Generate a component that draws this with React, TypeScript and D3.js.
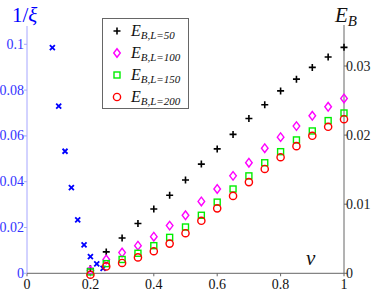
import React from 'react';
import * as d3 from 'd3';

// 1/xi (left axis, blue crosses)
const vXi = [0.08, 0.10, 0.12, 0.14, 0.16, 0.18, 0.20, 0.22, 0.24];
const invXi = [0.0985, 0.073, 0.0533, 0.0374, 0.0233, 0.0124, 0.0073, 0.0041, 0.0022];

// E_B series (right axis)
const vE = [0.2, 0.25, 0.3, 0.35, 0.4, 0.45, 0.5, 0.55, 0.6, 0.65, 0.7, 0.75, 0.8, 0.85, 0.9, 0.95, 1.0];
const eL50 = [0.0007, 0.0031, 0.0051, 0.0072, 0.0093, 0.0113, 0.0135, 0.0158, 0.018, 0.0201, 0.0224, 0.0244, 0.0264, 0.0281, 0.0298, 0.0313, 0.0327];
const eL100 = [0.0004, 0.002, 0.003, 0.004, 0.0053, 0.0069, 0.0084, 0.0104, 0.0122, 0.0141, 0.016, 0.0181, 0.0197, 0.0213, 0.0228, 0.0241, 0.0253];
const eL150 = [0.0002, 0.0014, 0.002, 0.0029, 0.004, 0.0052, 0.0067, 0.0084, 0.0103, 0.0122, 0.0141, 0.016, 0.0176, 0.0193, 0.0206, 0.0221, 0.0232];
const eL200 = [-0.0002, 0.001, 0.0015, 0.0023, 0.0032, 0.0043, 0.0058, 0.0076, 0.0094, 0.0112, 0.0132, 0.0151, 0.0168, 0.0184, 0.0199, 0.0212, 0.0223];

const xTicks = [0, 0.2, 0.4, 0.6, 0.8, 1];
const leftTicks = [0, 0.02, 0.04, 0.06, 0.08, 0.1];
const rightTicks = [0, 0.01, 0.02, 0.03];
const legendLabels = ['B,L=50', 'B,L=100', 'B,L=150', 'B,L=200'];

const W = 374, H = 291;
const left = 27, right = 344, bottom = 273.3, top = 26;
const serif = "'Liberation Serif', 'Times New Roman', 'DejaVu Serif', serif";

const x = d3.scaleLinear().domain([0, 1]).range([left, right]);
const yL = d3.scaleLinear().domain([0, 0.1]).range([bottom, 44.3]);
const yR = d3.scaleLinear().domain([0, 0.03]).range([bottom, 66]);

const blue = '#0000ff';
const axisBlue = '#a6a6ff';
const gray = '#666';

const Plus = ({ cx, cy }: { cx: number; cy: number }) => (
  <path d={`M${cx - 3.5},${cy}H${cx + 3.5}M${cx},${cy - 3.5}V${cy + 3.5}`} stroke="#000" strokeWidth={1.6} fill="none" />
);
const Cross = ({ cx, cy }: { cx: number; cy: number }) => (
  <path d={`M${cx - 2.5},${cy - 2.5}L${cx + 2.5},${cy + 2.5}M${cx - 2.5},${cy + 2.5}L${cx + 2.5},${cy - 2.5}`} stroke={blue} strokeWidth={1.8} fill="none" />
);
const Diamond = ({ cx, cy }: { cx: number; cy: number }) => (
  <path d={`M${cx},${cy - 4.3}L${cx + 3.3},${cy}L${cx},${cy + 4.3}L${cx - 3.3},${cy}Z`} stroke="#ff00ff" strokeWidth={1.4} fill="none" />
);
const Square = ({ cx, cy }: { cx: number; cy: number }) => (
  <rect x={cx - 3} y={cy - 3} width={6} height={6} stroke="#00ee00" strokeWidth={1.4} fill="none" />
);
const Circle = ({ cx, cy }: { cx: number; cy: number }) => (
  <circle cx={cx} cy={cy} r={3.6} stroke="#ff0000" strokeWidth={1.4} fill="none" />
);

const markers = [Plus, Diamond, Square, Circle];
const series = [eL50, eL100, eL150, eL200];

export default function App() {
  return (
    <svg width={W} height={H} style={{ position: 'absolute', left: 0, top: 0, background: '#fff', fontFamily: serif }}>
      {/* axes lines */}
      <line x1={left} x2={left} y1={top} y2={bottom} stroke={axisBlue} strokeWidth={1} />
      <line x1={left} x2={right} y1={bottom} y2={bottom} stroke={gray} strokeWidth={1} />
      <line x1={right} x2={right} y1={top - 1} y2={bottom} stroke={gray} strokeWidth={1} />

      {/* bottom ticks */}
      {xTicks.map(t => (
        <g key={'x' + t}>
          <line x1={x(t)} x2={x(t)} y1={bottom} y2={bottom + 3} stroke={gray} />
          <text x={x(t)} y={289} textAnchor="middle" fontSize={14} fill="#111">{d3.format('~g')(t)}</text>
        </g>
      ))}

      {/* left ticks */}
      {leftTicks.map(t => (
        <g key={'l' + t}>
          <line x1={left - 3} x2={left} y1={yL(t)} y2={yL(t)} stroke={axisBlue} />
          <text x={left - 3} y={yL(t) + 4.5} textAnchor="end" fontSize={14} fill="#3333ff">{d3.format('~g')(t)}</text>
        </g>
      ))}

      {/* right ticks */}
      {rightTicks.map(t => (
        <g key={'r' + t}>
          <line x1={right} x2={right + 3} y1={yR(t)} y2={yR(t)} stroke={gray} />
          <text x={right + 2} y={yR(t) + 4.5} textAnchor="start" fontSize={14} fill="#222">{d3.format('~g')(t)}</text>
        </g>
      ))}

      {/* axis titles */}
      <text x={12} y={22} fontSize={21} fill={blue}>
        1/<tspan fontStyle="italic">ξ</tspan>
      </text>
      <text x={335} y={22} fontSize={21} fill="#111" fontStyle="italic">
        E<tspan fontSize={15} dy={4}>B</tspan>
      </text>
      <text x={306} y={265} fontSize={21} fill="#111" fontStyle="italic">v</text>

      {/* blue crosses */}
      {vXi.map((v, i) => <Cross key={'c' + i} cx={x(v)} cy={yL(invXi[i])} />)}

      {/* E_B series */}
      {series.map((s, si) => {
        const M = markers[si];
        return s.map((e, i) => <M key={si + '-' + i} cx={x(vE[i])} cy={yR(e)} />);
      })}

      {/* legend */}
      <rect x={102.5} y={18.5} width={86} height={90} fill="#fff" stroke={gray} strokeWidth={1} />
      {legendLabels.map((lab, i) => {
        const M = markers[i];
        const cy = 31 + i * 22;
        return (
          <g key={'lg' + i}>
            <M cx={117} cy={cy} />
            <text x={131} y={cy + 5} fontSize={16} fontStyle="italic" fill="#111">
              E<tspan fontSize={11} dy={3}>{lab}</tspan>
            </text>
          </g>
        );
      })}
    </svg>
  );
}
